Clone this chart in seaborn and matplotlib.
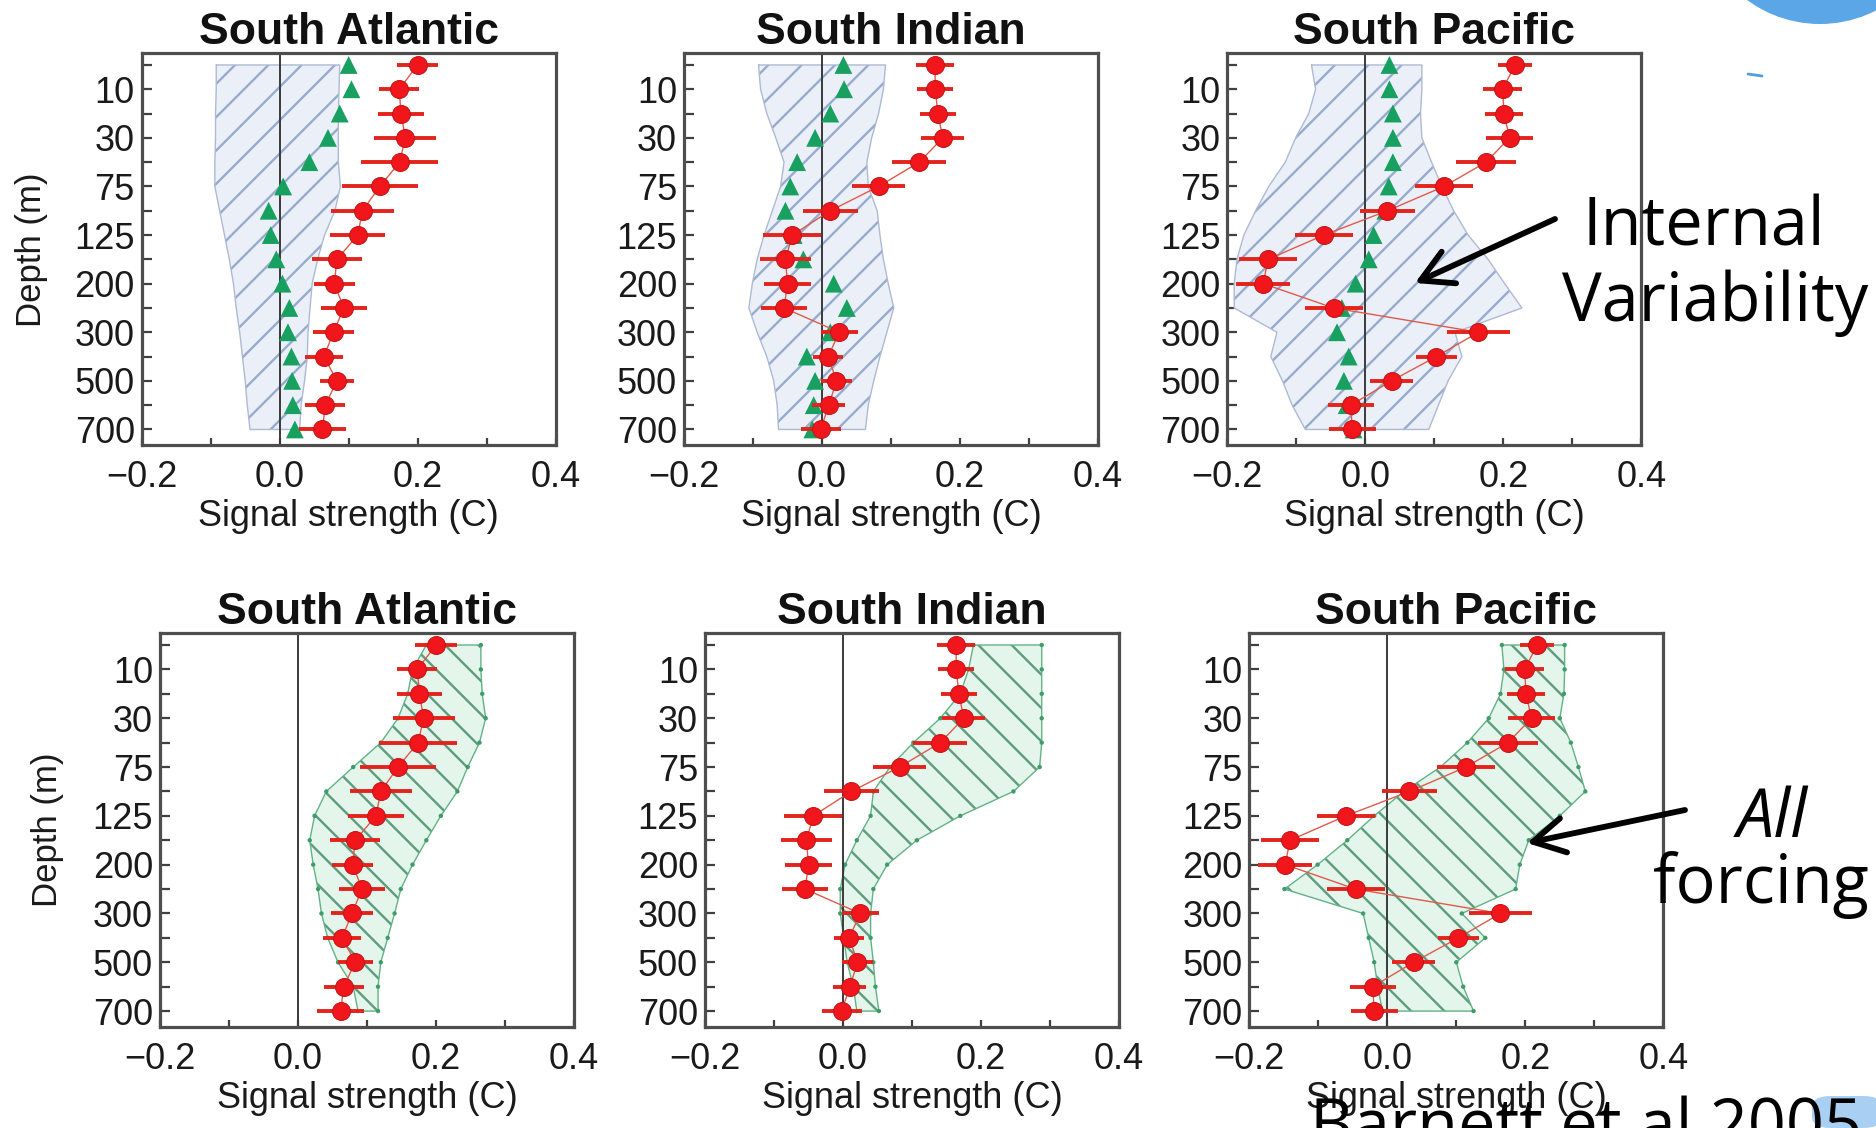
import numpy as np
import matplotlib
matplotlib.use("Agg")
import matplotlib.pyplot as plt
import seaborn as sns
from matplotlib.patches import Ellipse, FancyBboxPatch, FancyArrowPatch

# ---------------------------------------------------------------- data
DEPTHS = [5, 10, 20, 30, 50, 75, 100, 125, 150, 200, 250, 300, 400, 500, 600, 700]
BASINS = ["South Atlantic", "South Indian", "South Pacific"]
X_TICKS = [-0.2, 0.0, 0.2, 0.4]

# observed signal strength (C) and error half-widths
obs_atl = [0.200, 0.173, 0.176, 0.182, 0.174, 0.145, 0.120, 0.113, 0.083, 0.079, 0.093, 0.078, 0.064, 0.083, 0.066, 0.062]
err_atl = [0.030, 0.029, 0.033, 0.045, 0.056, 0.055, 0.045, 0.040, 0.036, 0.030, 0.033, 0.030, 0.028, 0.025, 0.029, 0.034]
obs_ind = [0.164, 0.164, 0.168, 0.175, 0.141, 0.082, 0.012, -0.043, -0.053, -0.050, -0.055, 0.025, 0.009, 0.021, 0.010, -0.002]
err_ind = [0.028, 0.026, 0.026, 0.031, 0.039, 0.039, 0.040, 0.042, 0.037, 0.034, 0.033, 0.027, 0.022, 0.022, 0.024, 0.029]
obs_pac = [0.217, 0.199, 0.201, 0.209, 0.175, 0.114, 0.032, -0.060, -0.141, -0.148, -0.046, 0.164, 0.103, 0.038, -0.021, -0.019]
err_pac = [0.024, 0.028, 0.028, 0.034, 0.043, 0.042, 0.040, 0.042, 0.042, 0.039, 0.042, 0.045, 0.030, 0.031, 0.033, 0.034]

# natural (control run) signal: mean and range
ctrl_mean_atl = [0.100, 0.104, 0.087, 0.070, 0.043, 0.005, -0.016, -0.013, -0.005, 0.004, 0.014, 0.012, 0.017, 0.018, 0.019, 0.022]
ctrl_lo_atl = [-0.092, -0.092, -0.093, -0.093, -0.094, -0.094, -0.087, -0.080, -0.073, -0.067, -0.063, -0.058, -0.054, -0.050, -0.047, -0.043]
ctrl_hi_atl = [0.087, 0.086, 0.085, 0.085, 0.085, 0.088, 0.080, 0.065, 0.055, 0.047, 0.044, 0.041, 0.040, 0.036, 0.031, 0.029]
ctrl_mean_ind = [0.031, 0.032, 0.012, -0.010, -0.036, -0.046, -0.053, -0.041, -0.027, 0.017, 0.036, 0.012, -0.022, -0.010, -0.012, -0.014]
ctrl_lo_ind = [-0.092, -0.089, -0.080, -0.067, -0.055, -0.060, -0.072, -0.084, -0.094, -0.101, -0.106, -0.094, -0.080, -0.070, -0.065, -0.063]
ctrl_hi_ind = [0.092, 0.089, 0.082, 0.072, 0.065, 0.067, 0.080, 0.084, 0.089, 0.096, 0.104, 0.094, 0.084, 0.075, 0.067, 0.063]
ctrl_mean_pac = [0.035, 0.035, 0.040, 0.040, 0.040, 0.034, 0.029, 0.012, 0.005, -0.014, -0.034, -0.041, -0.024, -0.031, -0.027, -0.017]
ctrl_lo_pac = [-0.078, -0.072, -0.082, -0.101, -0.116, -0.140, -0.159, -0.176, -0.186, -0.190, -0.190, -0.128, -0.137, -0.120, -0.106, -0.087]
ctrl_hi_pac = [0.082, 0.082, 0.080, 0.082, 0.096, 0.111, 0.128, 0.149, 0.178, 0.202, 0.227, 0.130, 0.140, 0.120, 0.106, 0.092]

# all-forcing model range
forced_lo_atl = [0.186, 0.166, 0.159, 0.145, 0.120, 0.080, 0.041, 0.024, 0.017, 0.022, 0.029, 0.034, 0.043, 0.058, 0.080, 0.087]
forced_hi_atl = [0.265, 0.265, 0.267, 0.272, 0.263, 0.246, 0.231, 0.207, 0.186, 0.166, 0.149, 0.140, 0.130, 0.120, 0.116, 0.116]
forced_lo_ind = [0.189, 0.182, 0.170, 0.141, 0.102, 0.068, 0.044, 0.040, 0.020, 0.003, -0.004, -0.004, 0.001, 0.006, 0.015, 0.020]
forced_hi_ind = [0.288, 0.288, 0.288, 0.288, 0.288, 0.285, 0.247, 0.170, 0.107, 0.064, 0.044, 0.040, 0.040, 0.044, 0.047, 0.052]
forced_lo_pac = [0.166, 0.169, 0.164, 0.147, 0.116, 0.077, 0.024, -0.019, -0.058, -0.101, -0.149, -0.035, -0.027, -0.019, -0.014, -0.007]
forced_hi_pac = [0.257, 0.257, 0.256, 0.250, 0.266, 0.277, 0.287, 0.250, 0.205, 0.192, 0.186, 0.108, 0.142, 0.100, 0.110, 0.125]

# ---------------------------------------------------------------- style
sns.set_theme(style="white")
plt.rcParams["font.family"] = ["Liberation Sans", "DejaVu Sans"]
plt.rcParams["hatch.linewidth"] = 1.7
plt.rcParams["axes.unicode_minus"] = True

W, H = 1876, 1128
fig = plt.figure(figsize=(W / 100, H / 100), dpi=100)
fig.patch.set_facecolor("white")

OBS_RED = "#f0161c"
TRI_GREEN = "#18a060"
SPINE = "#4e4e4e"
TEXT = "#1a1a1a"

CTRL_STYLE = dict(face="#ebf0f8", hatch_col="#97abcd", edge="#aebad2", hatch="/")
FORCED_STYLE = dict(face="#e4f5ec", hatch_col="#5e9c7e", edge="#62b286", hatch="\\")


def px_axes(x0, y0, x1, y1):
    return fig.add_axes([x0 / W, 1 - y1 / H, (x1 - x0) / W, (y1 - y0) / H])


def draw_panel(ax, title, lo, hi, style, obs, err, mean=None):
    y = np.arange(len(DEPTHS))
    lo = np.asarray(lo)
    hi = np.asarray(hi)

    # model range: pale fill, hatch and thin outline
    ax.fill_betweenx(y, lo, hi, facecolor=style["face"], edgecolor="none",
                     linewidth=0, zorder=1)
    ax.fill_betweenx(y, lo, hi, facecolor="none", edgecolor=style["hatch_col"],
                     hatch=style["hatch"], linewidth=0, zorder=1.2)
    ox = np.concatenate([lo, hi[::-1], lo[:1]])
    oy = np.concatenate([y, y[::-1], y[:1]])
    ax.plot(ox, oy, color=style["edge"], lw=1.0, zorder=1.3)

    ax.axvline(0, color="#3a3a3a", lw=1.4, zorder=2)

    if mean is not None:
        sns.scatterplot(x=mean, y=y, marker="^", s=165, color=TRI_GREEN,
                        edgecolor="none", zorder=3, ax=ax, legend=False)
    else:
        sns.scatterplot(x=np.concatenate([lo, hi]), y=np.concatenate([y, y]),
                        s=10, color="#3f9c68", edgecolor="none", zorder=1.5,
                        ax=ax, legend=False)

    # observations
    ax.plot(obs, y, color="#e05a4c", lw=1.0, zorder=4)
    ax.errorbar(obs, y, xerr=err, fmt="none", ecolor="#e3241c",
                elinewidth=2.8, capsize=0, zorder=5)
    sns.scatterplot(x=obs, y=y, s=165, color=OBS_RED, edgecolor="#c51515",
                    linewidth=0.8, zorder=6, ax=ax, legend=False)

    ax.set_xlim(-0.2, 0.4)
    ax.set_ylim(15.64, -0.48)
    ax.set_xticks(X_TICKS)
    ax.set_xticklabels([f"{v:.1f}".replace("-", "\u2212") for v in X_TICKS])
    ax.set_xticks([-0.1, 0.1, 0.3], minor=True)
    major_idx = list(range(1, len(DEPTHS), 2))
    ax.set_yticks(major_idx)
    ax.set_yticklabels([str(DEPTHS[i]) for i in major_idx])
    ax.set_yticks(list(range(0, len(DEPTHS), 2)), minor=True)
    ax.tick_params(axis="both", which="both", direction="in", color="#404040",
                   width=1.6, labelsize=26, labelcolor=TEXT)
    ax.tick_params(axis="y", which="both", length=7, pad=5, left=True)
    ax.tick_params(axis="x", which="both", length=5, pad=11, bottom=True)
    for s in ax.spines.values():
        s.set_color(SPINE)
        s.set_linewidth(2.3)
    ax.set_title(title, fontsize=32, fontweight="bold", pad=7, color="#111111")
    ax.set_xlabel("Signal strength (C)", fontsize=26, labelpad=3, color=TEXT)
    ax.set_ylabel("")
    ax.grid(False)


top_x = [141.7, 684.0, 1227.3]
bot_x = [160.0, 705.0, 1249.3]
obs_all = [(obs_atl, err_atl), (obs_ind, err_ind), (obs_pac, err_pac)]
ctrl_all = [(ctrl_lo_atl, ctrl_hi_atl, ctrl_mean_atl),
            (ctrl_lo_ind, ctrl_hi_ind, ctrl_mean_ind),
            (ctrl_lo_pac, ctrl_hi_pac, ctrl_mean_pac)]
forced_all = [(forced_lo_atl, forced_hi_atl), (forced_lo_ind, forced_hi_ind),
              (forced_lo_pac, forced_hi_pac)]

for i, basin in enumerate(BASINS):
    ax = px_axes(top_x[i], 53.3, top_x[i] + 414, 445)
    lo, hi, mean = ctrl_all[i]
    draw_panel(ax, basin, lo, hi, CTRL_STYLE, *obs_all[i], mean=mean)
    ax2 = px_axes(bot_x[i], 633.3, bot_x[i] + 414, 1026.7)
    lo, hi = forced_all[i]
    draw_panel(ax2, basin, lo, hi, FORCED_STYLE, *obs_all[i])

# depth labels on the left column
fig.text(31 / W, 1 - 250 / H, "Depth (m)", rotation=90, ha="center", va="center",
         fontsize=25, color=TEXT)
fig.text(47 / W, 1 - 830 / H, "Depth (m)", rotation=90, ha="center", va="center",
         fontsize=25, color=TEXT)

# slide decorations
fig.add_artist(Ellipse((1820 / W, 1 + 99 / H), 246 / W, 246 / H,
                       transform=fig.transFigure, facecolor="#5aa6e6",
                       edgecolor="none", zorder=0))
fig.add_artist(plt.Line2D([1748 / W, 1762 / W], [1 - 74 / H, 1 - 76 / H],
                          transform=fig.transFigure, color="#4f9ee0", lw=2))
fig.add_artist(FancyBboxPatch((1812 / W, 0), 70 / W, 32 / H,
                              boxstyle="round,pad=0,rounding_size=0.01",
                              transform=fig.transFigure, facecolor="#a9d0f2",
                              edgecolor="none", zorder=0))

# callouts
ann_font = dict(family=["Open Sans", "DejaVu Sans"], fontsize=48, color="black")
fig.text(1704 / W, 1 - 245 / H, "Internal", ha="center", va="baseline", **ann_font)
fig.text(1715 / W, 1 - 321 / H, "Variability", ha="center", va="baseline", **ann_font)
fig.text(1772 / W, 1 - 837 / H, "All", ha="center", va="baseline", style="italic", **ann_font)
fig.text(1761 / W, 1 - 903 / H, "forcing", ha="center", va="baseline", **ann_font)
fig.text(1310 / W, 1 - 1147 / H, "Barnett et al 2005", ha="left", va="baseline", **ann_font)

arrow_kw = dict(arrowstyle="->,head_length=0.9,head_width=0.5", lw=4.2,
                color="black", mutation_scale=25, shrinkA=0, shrinkB=0)
fig.add_artist(FancyArrowPatch((1555 / W, 1 - 219 / H), (1415 / W, 1 - 283 / H),
                               transform=fig.transFigure, **arrow_kw))
fig.add_artist(FancyArrowPatch((1685 / W, 1 - 810 / H), (1527 / W, 1 - 843 / H),
                               transform=fig.transFigure, **arrow_kw))

fig.savefig("out.png", dpi=100, facecolor="white")
